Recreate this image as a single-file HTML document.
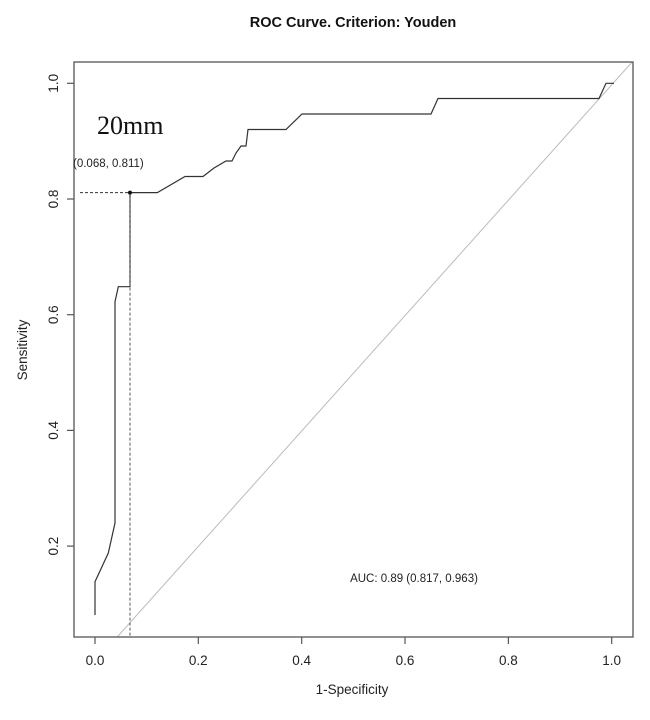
<!DOCTYPE html>
<html><head><style>body{margin:0;background:#fff}</style></head><body>
<svg width="650" height="715" viewBox="0 0 650 715" xmlns="http://www.w3.org/2000/svg" font-family="Liberation Sans, sans-serif">
<rect width="650" height="715" fill="#fff"/>
<text x="353" y="27" font-size="14.5" font-weight="bold" text-anchor="middle" fill="#111">ROC Curve. Criterion: Youden</text>
<defs><clipPath id="c"><rect x="74" y="62" width="559" height="575"/></clipPath></defs>
<line x1="117.2" y1="637" x2="633" y2="61" stroke="#bbb" stroke-width="1" clip-path="url(#c)"/>
<rect x="74" y="62" width="559" height="575" fill="none" stroke="#555" stroke-width="1.3"/>
<g stroke="#555" stroke-width="1.2">
<line x1="95" y1="637" x2="95" y2="644"/><line x1="198.3" y1="637" x2="198.3" y2="644"/><line x1="301.7" y1="637" x2="301.7" y2="644"/><line x1="405" y1="637" x2="405" y2="644"/><line x1="508.4" y1="637" x2="508.4" y2="644"/><line x1="611.7" y1="637" x2="611.7" y2="644"/>
<line x1="74" y1="83.3" x2="67" y2="83.3"/><line x1="74" y1="199" x2="67" y2="199"/><line x1="74" y1="314.7" x2="67" y2="314.7"/><line x1="74" y1="430.4" x2="67" y2="430.4"/><line x1="74" y1="546.1" x2="67" y2="546.1"/>
</g>
<g font-size="13.5" fill="#222" text-anchor="middle">
<text x="95" y="665">0.0</text><text x="198.3" y="665">0.2</text><text x="301.7" y="665">0.4</text><text x="405" y="665">0.6</text><text x="508.4" y="665">0.8</text><text x="611.7" y="665">1.0</text>
<text transform="translate(58,83.3) rotate(-90)">1.0</text><text transform="translate(58,199) rotate(-90)">0.8</text><text transform="translate(58,314.7) rotate(-90)">0.6</text><text transform="translate(58,430.4) rotate(-90)">0.4</text><text transform="translate(58,546.1) rotate(-90)">0.2</text>
<text x="352" y="694">1-Specificity</text>
<text transform="translate(27,350) rotate(-90)">Sensitivity</text>
</g>
<polyline fill="none" stroke="#333" stroke-width="1.2" points="95,615 95,581.7 108.3,553 115,523 115,301.7 118.3,286.7 130,286.7 130,192.6 157.3,192.6 185,176.5 203,176.5 214,168 226,161 232,161 236,153 241,146 246,146 248,129.5 286,129.5 302,114 431,114 438,98.5 599,98.5 606,83.3 614,83.3"/>
<line x1="80" y1="192.6" x2="130" y2="192.6" stroke="#333" stroke-width="1" stroke-dasharray="3,2"/>
<line x1="130" y1="192.6" x2="130" y2="637" stroke="#555" stroke-width="1" stroke-dasharray="3,2"/>
<circle cx="130" cy="192.6" r="2" fill="#111"/>
<text x="97" y="134" font-family="Liberation Serif, serif" font-size="26" fill="#111">20mm</text>
<text x="73" y="167" font-size="11.5" fill="#222">(0.068, 0.811)</text>
<text x="414" y="582" font-size="11.5" fill="#222" text-anchor="middle">AUC: 0.89 (0.817, 0.963)</text>
</svg>
</body></html>
